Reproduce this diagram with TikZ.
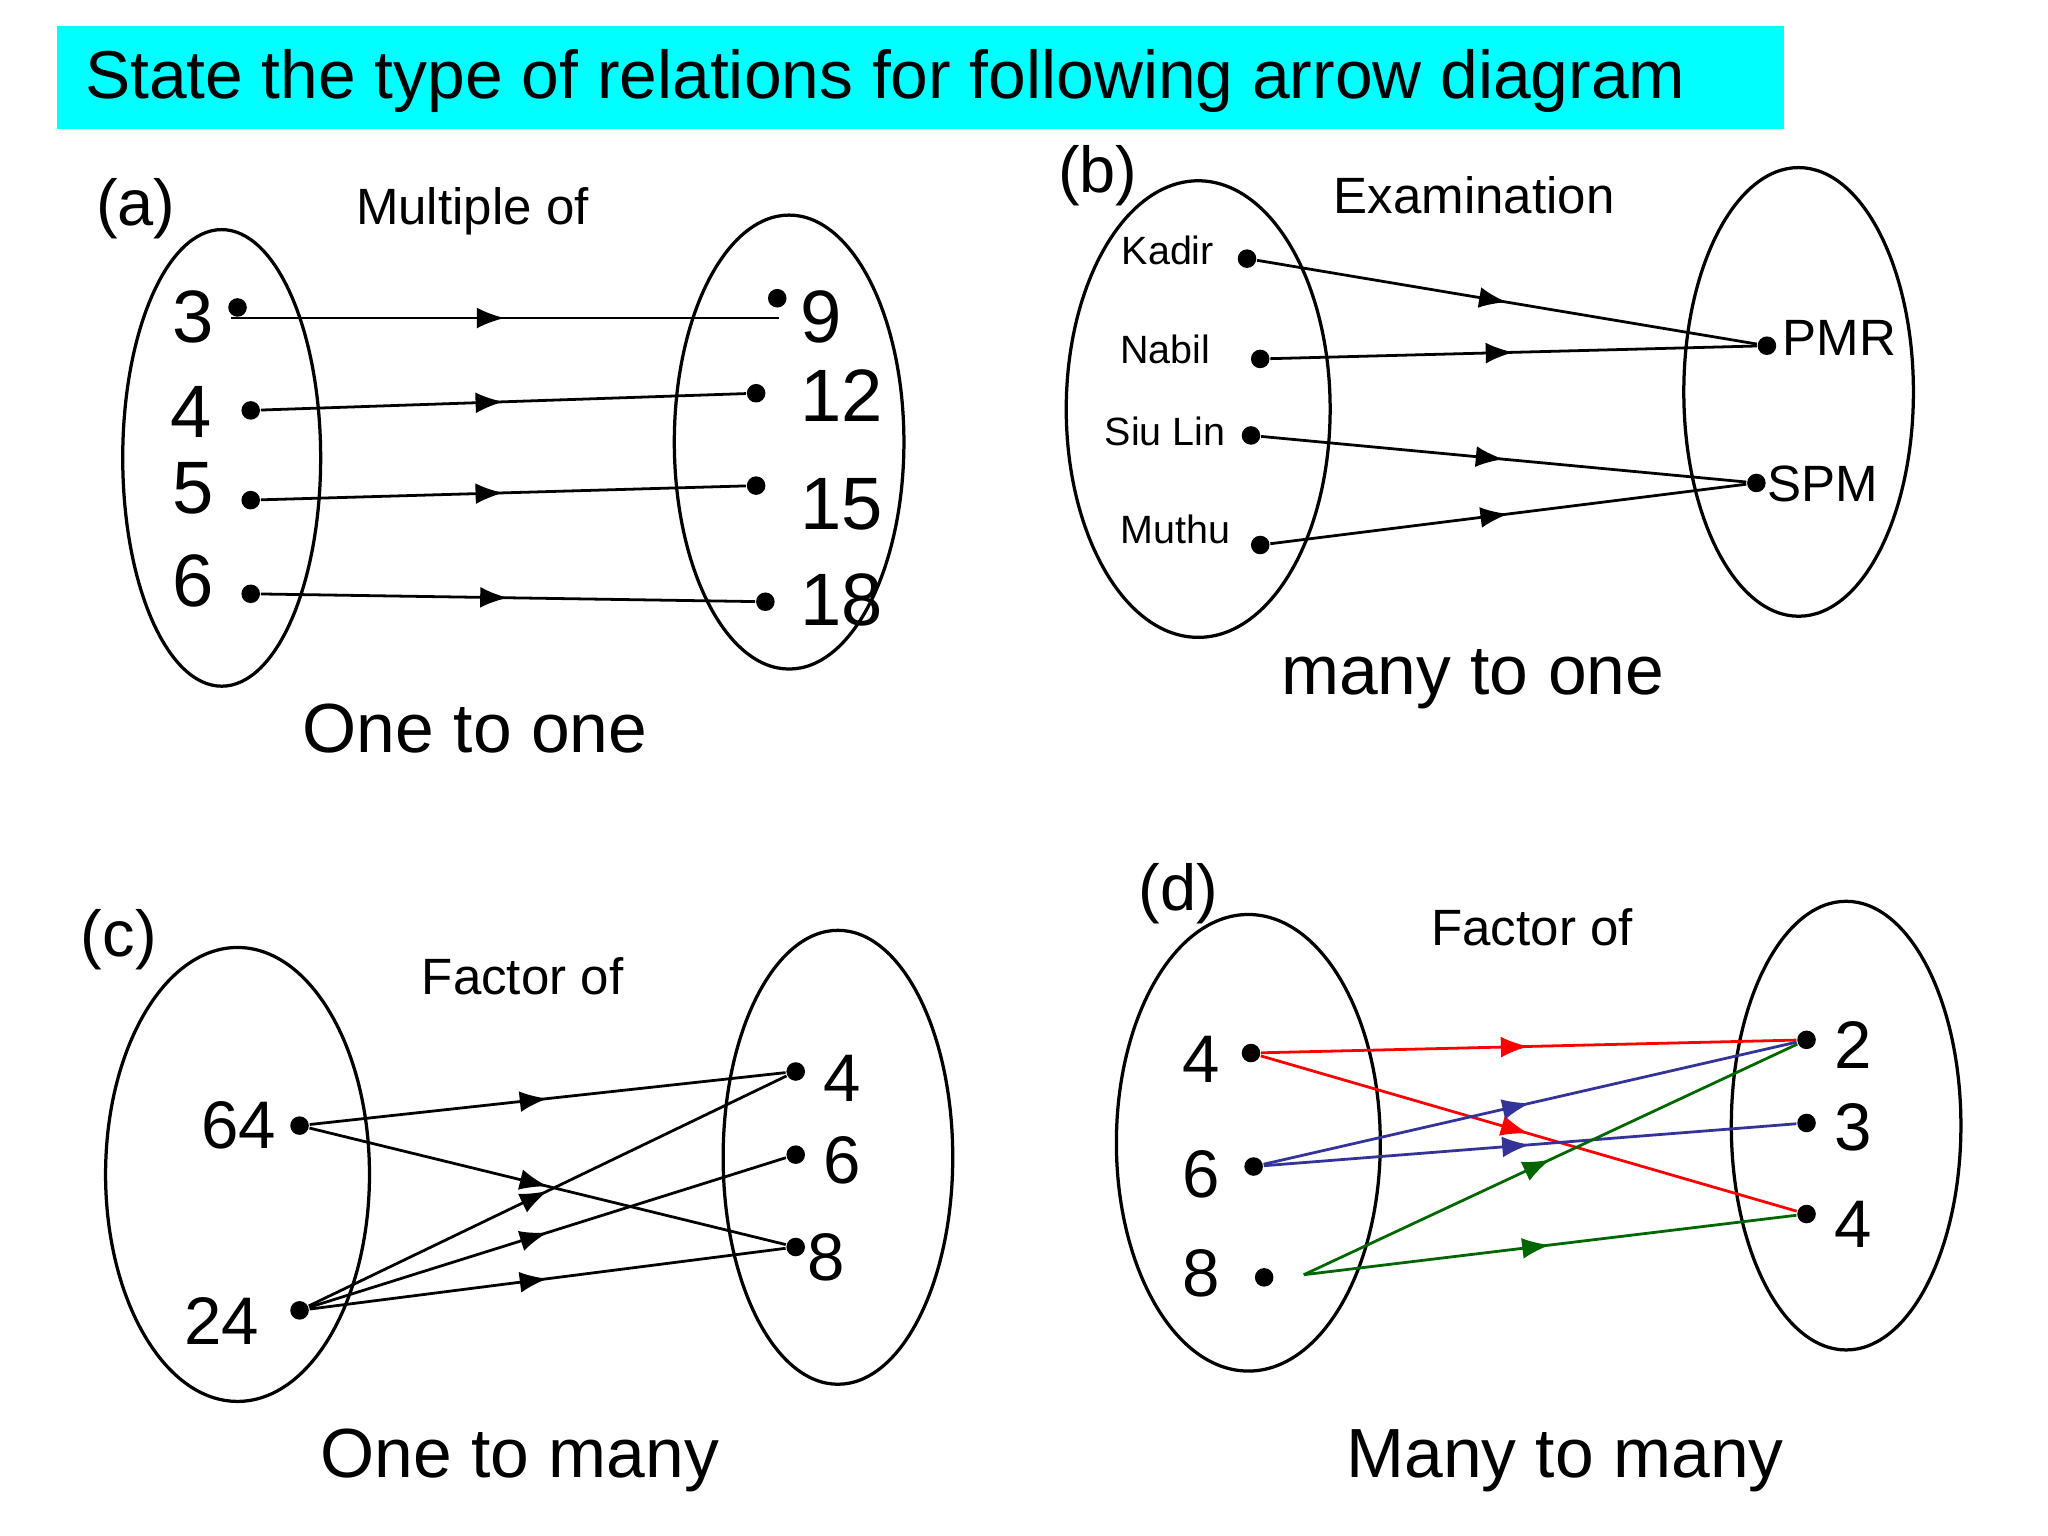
\documentclass[tikz,border=0pt]{standalone}
\usepackage{fontspec}
\setmainfont{Liberation Sans}
\usetikzlibrary{decorations.markings,arrows.meta}
\definecolor{aquabox}{rgb}{0,1,1}
\definecolor{navyline}{rgb}{0.2,0.2,0.6}
\definecolor{greenline}{rgb}{0,0.4,0}
\begin{document}
\begin{tikzpicture}[x=0.01cm,y=-0.01cm,
  midarrow/.style={postaction={decorate},decoration={markings,mark=at position 0.5 with {\arrow{Latex[length=6pt,width=4.5pt]}}}},
  rel/.style={line width=0.6pt,midarrow},
  pt/.style={circle,fill=black,inner sep=0pt,minimum size=4pt},
  set/.style={line width=0.7pt},
  big/.style={font=\fontsize{16}{18}\selectfont},
  med/.style={font=\fontsize{14.5}{17}\selectfont},
  small/.style={font=\fontsize{8.5}{10}\selectfont},
  lbl/.style={font=\fontsize{11}{13}\selectfont},
  part/.style={font=\fontsize{14}{16}\selectfont},
  kind/.style={font=\fontsize{15}{18}\selectfont}]
\useasboundingbox (0,0) rectangle (1552,1164);
\fill[white] (0,0) rectangle (1552,1164);
\fill[aquabox] (43,20) rectangle (1352,98);
\node[anchor=west,font=\fontsize{14.6}{17}\selectfont] (title) at (52,61) {State the type of relations for following arrow diagram};

% (a)
\node[part] (pa) at (103,158) {(a)};
\node[lbl] (ta) at (358,160) {Multiple of};
\node[kind] (ka) at (360,552) {One to one};
\draw[set] (168,347) ellipse [x radius=75,y radius=173];
\draw[set] (598,335) ellipse [x radius=87,y radius=172];
\node[pt] (a3) at (180,233) {}; \node[pt] (a4) at (190,311) {}; \node[pt] (a5) at (190,379) {}; \node[pt] (a6) at (190,450) {};
\node[pt] (a9) at (589,226) {}; \node[pt] (a12) at (573,298) {}; \node[pt] (a15) at (573,368) {}; \node[pt] (a18) at (580,456) {};
\node[big] at (146,240) {3}; \node[big] at (145,312) {4}; \node[big] at (146,370) {5}; \node[big] at (146,440) {6};
\node[big] at (622,240) {9}; \node[big] at (638,300) {12}; \node[big] at (638,382) {15}; \node[big] at (638,455) {18};
\coordinate (a3s) at (175,241); \coordinate (a9e) at (590,241);
\draw[rel] (a3s) -- (a9e);
\draw[rel] (a4) -- (a12);
\draw[rel] (a5) -- (a15);
\draw[rel] (a6) -- (a18);

% (b)
\node[part] (pb) at (832,133) {(b)};
\node[lbl] (tb) at (1117,148) {Examination};
\node[kind] (kb) at (1116,515) {many to one};
\draw[set] (908,310) ellipse [x radius=100,y radius=173];
\draw[set] (1363,297) ellipse [x radius=87,y radius=170];
\node[pt] (kad) at (945,196) {}; \node[pt] (nab) at (955,272) {}; \node[pt] (siu) at (948,330) {}; \node[pt] (mut) at (955,413) {};
\node[pt] (pmr) at (1339,262) {}; \node[pt] (spm) at (1331,366) {};
\node[small] at (885,190) {Kadir}; \node[small] at (883,265) {Nabil}; \node[small] at (883,327) {Siu Lin}; \node[small] at (891,401) {Muthu};
\node[lbl] at (1394,256) {PMR}; \node[lbl] at (1381,367) {SPM};
\draw[rel] (kad) -- (pmr);
\draw[rel] (nab) -- (pmr);
\draw[rel] (siu) -- (spm);
\draw[rel] (mut) -- (spm);

% (c)
\node[part] (pc) at (90,712) {(c)};
\node[lbl] (tc) at (396,740) {Factor of};
\node[kind] (kc) at (394,1107) {One to many};
\draw[set] (180,890) ellipse [x radius=100,y radius=172];
\draw[set] (635,877) ellipse [x radius=87,y radius=172];
\node[pt] (c64) at (227,853) {}; \node[pt] (c24) at (227,993) {};
\node[pt] (c4) at (603,812) {}; \node[pt] (c6) at (603,875) {}; \node[pt] (c8) at (603,945) {};
\node[med] at (181,853) {64}; \node[med] at (168,1001) {24};
\node[med] at (638,817) {4}; \node[med] at (638,879) {6}; \node[med] at (626,953) {8};
\draw[rel] (c64) -- (c4);
\draw[rel] (c64) -- (c8);
\draw[rel] (c24) -- (c4);
\draw[rel] (c24) -- (c6);
\draw[rel] (c24) -- (c8);

% (d)
\node[part] (pd) at (893,677) {(d)};
\node[lbl] (td) at (1161,703) {Factor of};
\node[kind] (kd) at (1186,1107) {Many to many};
\draw[set] (946,866) ellipse [x radius=100,y radius=173];
\draw[set] (1399,853) ellipse [x radius=87,y radius=170];
\node[pt] (d4) at (948,798) {}; \node[pt] (d6) at (950,884) {}; \node[pt] (d8) at (958,968) {};
\node[pt] (r2) at (1369,788) {}; \node[pt] (r3) at (1369,851) {}; \node[pt] (r4) at (1369,920) {};
\node[med] at (910,803) {4}; \node[med] at (910,890) {6}; \node[med] at (910,965) {8};
\node[med] at (1404,792) {2}; \node[med] at (1404,854) {3}; \node[med] at (1404,928) {4};
\coordinate (d8s) at (988,966);
\draw[rel,red] (d4) -- (r2);
\draw[rel,red] (d4) -- (r4);
\draw[rel,navyline] (d6) -- (r2);
\draw[rel,navyline] (d6) -- (r3);
\draw[rel,greenline] (d8s) -- (r2);
\draw[rel,greenline] (d8s) -- (r4);
\end{tikzpicture}
\end{document}
